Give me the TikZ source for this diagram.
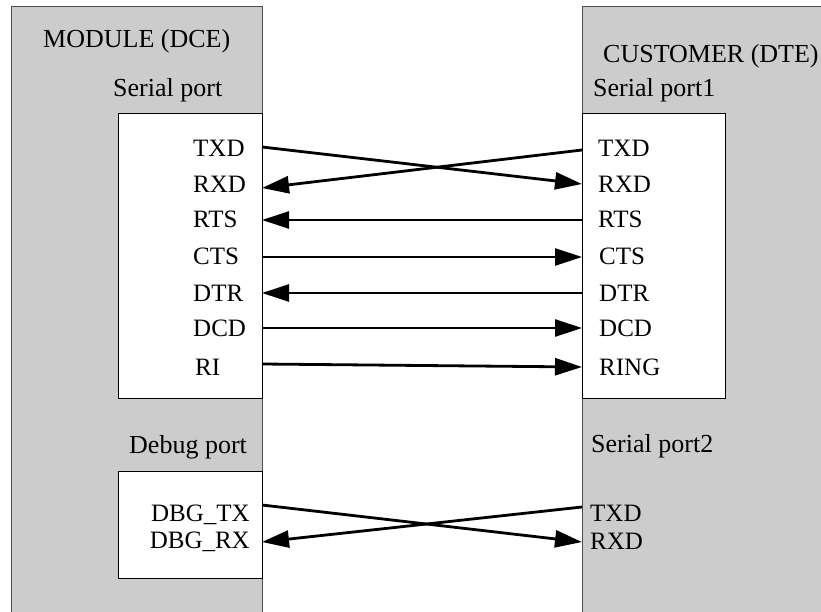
\documentclass[tikz,border=0pt]{standalone}
\usepackage{fontspec}
\setmainfont{Liberation Serif}
\usetikzlibrary{arrows.meta}
\tikzset{
  panel/.style={fill=gray!40},
  edge/.style={draw=black!70,line width=1pt},
  portbox/.style={fill=white,draw=black,line width=1pt},
  sig/.style={anchor=base west,inner sep=0pt,font=\fontsize{25}{30}\selectfont},
  dbg/.style={anchor=base east,inner sep=0pt,font=\fontsize{25}{30}\selectfont},
  head/.style={anchor=base west,inner sep=0pt,font=\fontsize{26}{30}\selectfont},
  wire/.style={line width=2.8pt,-{Triangle[length=27pt,width=17pt]}},
}
\begin{document}
\begin{tikzpicture}[x=1pt,y=-1pt]
  \useasboundingbox (0,0) rectangle (821,612);
  % module side
  \fill[panel] (11,7) rectangle (262,613);
  \draw[edge] (11,613)--(11,7)--(262,7)--(262,613);
  \draw[portbox] (118,114) rectangle (262,398);
  \draw[portbox] (118,471) rectangle (262,578);
  % customer side
  \fill[panel] (582,7) rectangle (822,613);
  \draw[edge] (582,613)--(582,7)--(822,7);
  \draw[portbox] (582,114) rectangle (725,398);
  \draw[edge] (582,398)--(582,613);

  \node[head](dce) at (43,48) {MODULE (DCE)};
  \node[head](sp) at (113,97) {Serial port};
  \node[head](dte) at (603,63) {CUSTOMER (DTE)};
  \node[head](sp1) at (593,97) {Serial port1};
  \node[head](dp) at (129,453) {Debug port};
  \node[head](sp2) at (591,452) {Serial port2};

  \node[sig](mTXD) at (193,157) {TXD};
  \node[sig](mRXD) at (193,193) {RXD};
  \node[sig](mRTS) at (193,228) {RTS};
  \node[sig](mCTS) at (193,265) {CTS};
  \node[sig](mDTR) at (193,301) {DTR};
  \node[sig](mDCD) at (193,336) {DCD};
  \node[sig](mRI) at (195,375) {RI};

  \node[sig](cTXD) at (598,157) {TXD};
  \node[sig](cRXD) at (598,193) {RXD};
  \node[sig](cRTS) at (598,228) {RTS};
  \node[sig](cCTS) at (599,265) {CTS};
  \node[sig](cDTR) at (599,301) {DTR};
  \node[sig](cDCD) at (599,336) {DCD};
  \node[sig](cRING) at (599,375) {RING};

  \node[dbg](dTX) at (250,521) {DBG\_TX};
  \node[dbg](dRX) at (250,548) {DBG\_RX};
  \node[sig](pTXD) at (590,521) {TXD};
  \node[sig](pRXD) at (590,549) {RXD};

  % wire ends on the port edges
  \coordinate(mTXDe) at (262,147);
  \coordinate(mRXDe) at (262,188);
  \coordinate(mRTSe) at (262,220);
  \coordinate(mCTSe) at (262,257);
  \coordinate(mDTRe) at (262,293);
  \coordinate(mDCDe) at (262,328);
  \coordinate(mRIe) at (262,364);
  \coordinate(cTXDe) at (582,150);
  \coordinate(cRXDe) at (582,184);
  \coordinate(cRTSe) at (582,220);
  \coordinate(cCTSe) at (582,257);
  \coordinate(cDTRe) at (582,293);
  \coordinate(cDCDe) at (582,328);
  \coordinate(cRINGe) at (582,367);
  \coordinate(dTXe) at (262,505);
  \coordinate(dRXe) at (262,542);
  \coordinate(pTXDe) at (582,507);
  \coordinate(pRXDe) at (582,542);

  \draw[wire] (mTXDe)--(cRXDe);
  \draw[wire] (cTXDe)--(mRXDe);
  \draw[wire] (cRTSe)--(mRTSe);
  \draw[wire] (mCTSe)--(cCTSe);
  \draw[wire] (cDTRe)--(mDTRe);
  \draw[wire] (mDCDe)--(cDCDe);
  \draw[wire] (mRIe)--(cRINGe);
  \draw[wire] (dTXe)--(pRXDe);
  \draw[wire] (pTXDe)--(dRXe);
\end{tikzpicture}
\end{document}
